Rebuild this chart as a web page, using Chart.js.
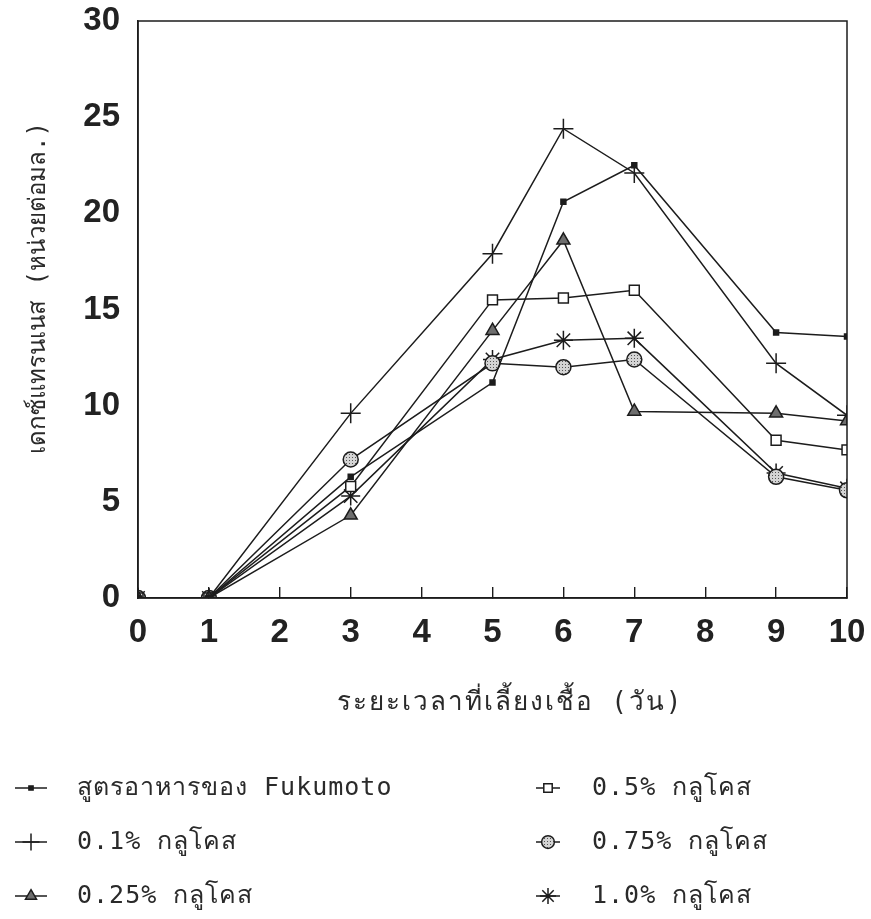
<!DOCTYPE html>
<html>
<head>
<meta charset="utf-8">
<script src="https://cdn.jsdelivr.net/npm/chart.js@4/dist/chart.umd.min.js"></script>
<style>
  html, body { margin: 0; padding: 0; background: #fff; }
  #wrap { width: 871px; height: 919px; }
</style>
</head>
<body>
<div id="wrap"><canvas id="chart" width="871" height="919"></canvas></div>
<script>
// days of culture and dextranase activity (units/ml) per medium
const days = [0, 1, 3, 5, 6, 7, 9, 10];
const fukumoto   = [0, 0, 6.3, 11.2, 20.6, 22.5, 13.8, 13.6];
const glucose01  = [0, 0, 9.6, 17.9, 24.4, 22.1, 12.2, 9.5];
const glucose025 = [0, 0, 4.3, 13.9, 18.6, 9.7, 9.6, 9.2];
const glucose05  = [0, 0, 5.8, 15.5, 15.6, 16.0, 8.2, 7.7];
const glucose075 = [0, 0, 7.2, 12.2, 12.0, 12.4, 6.3, 5.6];
const glucose10  = [0, 0, 5.3, 12.4, 13.4, 13.5, 6.5, 5.7];

const seriesLabels = [
  "สูตรอาหารของ Fukumoto",
  "0.1% กลูโคส",
  "0.25% กลูโคส",
  "0.5% กลูโคส",
  "0.75% กลูโคส",
  "1.0% กลูโคส"
];
const xTitle = "ระยะเวลาที่เลี้ยงเชื้อ (วัน)";
const yTitle = "เดกซ์แทรนเนส (หน่วยต่อมล.)";
const xRange = [0, 10];
const yRange = [0, 30];

const ink = "#1c1c1c";
const thaiFont = '"DejaVu Sans Mono", "Liberation Mono", "Noto Sans", sans-serif';
const tickFont = { family: '"Liberation Sans", Arial, sans-serif', size: 33, weight: "bold" };

// dotted grey fill for the circle markers
function dotPattern() {
  const c = document.createElement("canvas");
  c.width = 3; c.height = 3;
  const g = c.getContext("2d");
  g.fillStyle = "#d4d4d4"; g.fillRect(0, 0, 3, 3);
  g.fillStyle = "#555"; g.fillRect(1, 1, 1, 1);
  return g.createPattern(c, "repeat");
}

const pts = ys => ys.map((y, i) => ({ x: days[i], y }));

function series(label, data, style, radius, fill) {
  return {
    label,
    data: pts(data),
    borderColor: ink,
    borderWidth: 1.5,
    pointStyle: style,
    pointRadius: radius,
    pointBackgroundColor: fill,
    pointBorderColor: ink,
    pointBorderWidth: 1.5,
    tension: 0
  };
}

const datasets = [
  series(seriesLabels[0], fukumoto, "rect", 3.5, ink),
  series(seriesLabels[1], glucose01, "cross", 10, ink),
  series(seriesLabels[2], glucose025, "triangle", 7.5, "#6e6e6e"),
  series(seriesLabels[3], glucose05, "rect", 7, "#fff"),
  series(seriesLabels[4], glucose075, "circle", 7.5, dotPattern()),
  series(seriesLabels[5], glucose10, "star", 9.5, ink)
];

// frame, axis titles and the two-column legend
const decorations = {
  id: "decorations",
  afterDraw(chart) {
    const { ctx, chartArea } = chart;
    ctx.save();
    ctx.strokeStyle = ink;
    ctx.lineWidth = 1.5;
    ctx.strokeRect(chartArea.left, chartArea.top, chartArea.right - chartArea.left, chartArea.bottom - chartArea.top);

    ctx.fillStyle = "#2a2a2a";
    ctx.textAlign = "center";
    ctx.textBaseline = "middle";

    // x title
    ctx.font = "26px " + thaiFont;
    ctx.letterSpacing = "2px";
    ctx.fillText(xTitle, 510, chartArea.bottom + 105);

    // y title, rotated
    ctx.font = "24px " + thaiFont;
    ctx.letterSpacing = "0px";
    ctx.translate(39, 288);
    ctx.rotate(-Math.PI / 2);
    ctx.fillText(yTitle, 0, 0);
    ctx.restore();

    chart.data.datasets.forEach((ds, i) => {
      const col = Math.floor(i / 3), row = i % 3;
      const x = col ? 548 : 31;
      const half = col ? 12 : 16;
      const y = chartArea.bottom + 190 + row * 54;
      ctx.save();
      ctx.strokeStyle = ink;
      ctx.lineWidth = 1.5;
      ctx.beginPath();
      ctx.moveTo(x - half, y); ctx.lineTo(x + half, y);
      ctx.stroke();
      ctx.fillStyle = ds.pointBackgroundColor;
      Chart.helpers.drawPoint(ctx, {
        pointStyle: ds.pointStyle,
        radius: ds.pointRadius * 0.85,
        rotation: 0,
        borderWidth: ds.pointBorderWidth
      }, x, y);
      ctx.fillStyle = "#2a2a2a";
      ctx.font = "25px " + thaiFont;
      ctx.letterSpacing = "1px";
      ctx.textAlign = "left";
      ctx.textBaseline = "middle";
      ctx.fillText(ds.label, col ? 592 : 77, y);
      ctx.restore();
    });
  }
};

new Chart(document.getElementById("chart"), {
  type: "line",
  data: { datasets },
  plugins: [decorations],
  options: {
    responsive: false,
    animation: false,
    layout: { padding: { left: 0, top: 21, right: 24, bottom: 200 } },
    plugins: { legend: { display: false }, tooltip: { enabled: false } },
    scales: {
      x: {
        type: "linear",
        min: xRange[0],
        max: xRange[1],
        afterFit(s) { s.height = 121; s.paddingLeft = 0; s.paddingRight = 0; },
        ticks: { stepSize: 1, color: "#222", font: tickFont, padding: 26 },
        grid: { drawOnChartArea: false, drawTicks: true, tickLength: -11, color: ink, lineWidth: 1.4 },
        border: { display: true, color: ink, width: 1.5 }
      },
      y: {
        min: yRange[0],
        max: yRange[1],
        afterFit(s) { s.width = 138; s.paddingTop = 0; s.paddingBottom = 0; },
        ticks: { stepSize: 5, color: "#222", font: tickFont, padding: 10 },
        grid: { display: false },
        border: { display: true, color: ink, width: 1.5 }
      }
    }
  }
});
</script>
</body>
</html>
